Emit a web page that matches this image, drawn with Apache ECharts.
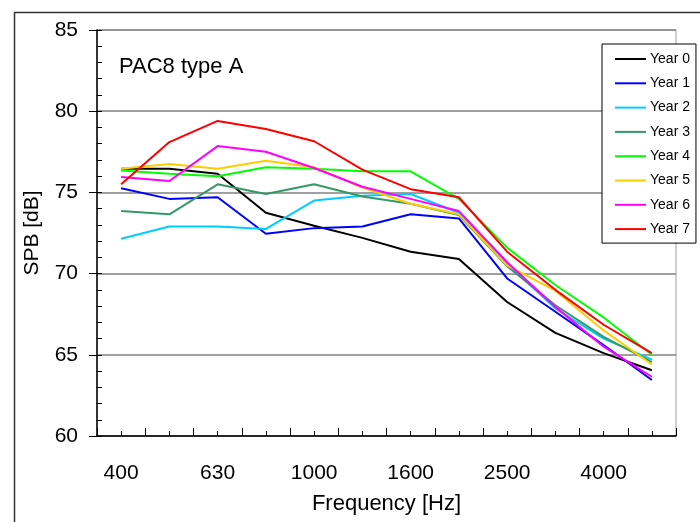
<!DOCTYPE html>
<html>
<head>
<meta charset="utf-8">
<script src="https://cdn.jsdelivr.net/npm/echarts@6/dist/echarts.min.js"></script>
<style>
html,body{margin:0;padding:0;background:#fff;}
#chart{width:700px;height:522px;}
</style>
</head>
<body>
<div id="chart"></div>
<script>
const categories = ['400','500','630','800','1000','1250','1600','2000','2500','3150','4000','5000'];
const seriesNames = ['Year 0','Year 1','Year 2','Year 3','Year 4','Year 5','Year 6','Year 7'];
const year0 = [76.45, 76.45, 76.15, 73.75, 72.95, 72.2, 71.35, 70.9, 68.25, 66.35, 65.1, 64.05];
const year1 = [75.25, 74.6, 74.7, 72.45, 72.8, 72.9, 73.65, 73.4, 69.7, 67.65, 65.6, 63.45];
const year2 = [72.15, 72.9, 72.9, 72.75, 74.5, 74.8, 74.9, 73.75, 70.6, 67.85, 66.0, 64.7];
const year3 = [73.85, 73.65, 75.5, 74.9, 75.5, 74.75, 74.3, 73.6, 70.45, 68.05, 66.1, 64.55];
const year4 = [76.35, 76.15, 76.0, 76.55, 76.45, 76.3, 76.3, 74.6, 71.6, 69.3, 67.3, 65.0];
const year5 = [76.45, 76.75, 76.45, 76.95, 76.55, 75.3, 74.3, 73.65, 70.5, 68.95, 66.5, 64.4];
const year6 = [75.95, 75.7, 77.85, 77.5, 76.5, 75.35, 74.6, 73.85, 70.7, 67.95, 65.5, 63.65];
const year7 = [75.5, 78.1, 79.4, 78.9, 78.15, 76.4, 75.2, 74.7, 71.35, 69.0, 66.85, 65.1];
const colors = ['#000000','#0000ff','#00ccff','#339966','#00ff00','#ffcc00','#ff00ff','#ff0000'];
const allData = [year0, year1, year2, year3, year4, year5, year6, year7];

const FONT = '"Liberation Sans", Arial, sans-serif';

const chart = echarts.init(document.getElementById('chart'), null, {renderer: 'canvas'});
chart.setOption({
  animation: false,
  backgroundColor: '#fff',
  textStyle: {fontFamily: FONT},
  graphic: [
    {type: 'rect', left: 12, top: 10, shape: {width: 720, height: 600}, style: {fill: 'none', stroke: '#333', lineWidth: 1.5}, silent: true},
    {type: 'text', left: 119, top: 56, style: {text: 'PAC8 type A', fontFamily: FONT, fontSize: 22, fill: '#000'}}
  ],
  grid: {left: 97, right: 24, top: 30, bottom: 86, show: true, borderColor: '#a0a0a0', borderWidth: 1},
  legend: {
    data: seriesNames,
    orient: 'vertical',
    left: 602, top: 44,
    padding: [8, 6, 7, 13],
    icon: 'rect',
    itemWidth: 31, itemHeight: 2, itemGap: 10.3,
    backgroundColor: '#fff',
    borderColor: '#000', borderWidth: 1,
    textStyle: {fontFamily: FONT, fontSize: 14, lineHeight: 14, color: '#000', padding: [0,0,0,-1]}
  },
  xAxis: [
    {
      type: 'category', data: categories, boundaryGap: true,
      name: 'Frequency [Hz]', nameLocation: 'middle', nameGap: 57,
      nameTextStyle: {fontFamily: FONT, fontSize: 22, color: '#000'},
      axisLine: {lineStyle: {color: '#000', width: 1.5}},
      axisTick: {show: true, inside: true, length: 8, interval: 0, lineStyle: {color: '#000'}},
      axisLabel: {interval: 1, margin: 27, fontFamily: FONT, fontSize: 21, color: '#000'},
      splitLine: {show: false}
    },
    {
      type: 'category', data: categories, boundaryGap: true, position: 'bottom',
      axisLine: {show: false},
      axisTick: {show: true, inside: true, length: 5, alignWithLabel: true, interval: 0, lineStyle: {color: '#000'}},
      axisLabel: {show: false},
      splitLine: {show: false}
    }
  ],
  yAxis: [
    {
      type: 'value', min: 60, max: 85, interval: 5,
      name: 'SPB [dB]', nameLocation: 'middle', nameGap: 54, nameRotate: 90,
      nameTextStyle: {fontFamily: FONT, fontSize: 21, color: '#000'},
      axisLine: {show: true, lineStyle: {color: '#000', width: 1.5}},
      axisTick: {show: true, inside: false, length: 8, lineStyle: {color: '#000'}},
      axisLabel: {margin: 19, fontFamily: FONT, fontSize: 21, color: '#000'},
      splitLine: {show: true, lineStyle: {color: '#808080', width: 1.5}}
    },
    {
      type: 'value', min: 60, max: 85, interval: 1, position: 'left',
      axisLine: {show: false},
      axisTick: {show: true, inside: true, length: 5, lineStyle: {color: '#000'}},
      axisLabel: {show: false},
      splitLine: {show: false}
    }
  ],
  series: seriesNames.map((n, i) => ({
    name: n, type: 'line', data: allData[i],
    xAxisIndex: 0, yAxisIndex: 0,
    symbol: 'none', showSymbol: false,
    color: colors[i],
    lineStyle: {color: colors[i], width: 2},
    emphasis: {disabled: true}
  }))
});
</script>
</body>
</html>
